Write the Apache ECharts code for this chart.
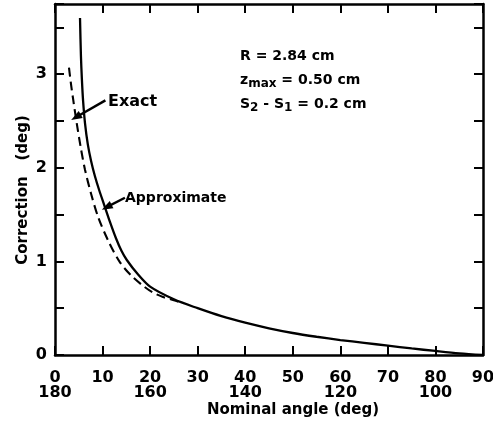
<!DOCTYPE html>
<html>
<head>
<meta charset="utf-8">
<script src="https://cdn.jsdelivr.net/npm/echarts@6/dist/echarts.min.js"></script>
<style>
  html, body { margin: 0; padding: 0; background: #fff; }
  #chart { width: 493px; height: 421px; }
</style>
</head>
<body>
<div id="chart"></div>
<script>
// Exact correction curve (nominal angle in deg, correction in deg)
const exactAngle = [5.26, 5.45, 5.65, 5.9, 6.3, 6.9, 7.6, 8.4, 9.3, 10.3, 11.5, 12.8, 14.0, 15.1, 17.3, 20, 25, 30, 35, 40, 45, 50, 55, 60, 65, 70, 75, 80, 85, 90];
const exactCorr  = [3.6, 3.2, 2.95, 2.72, 2.48, 2.25, 2.07, 1.91, 1.76, 1.61, 1.43, 1.25, 1.11, 1.015, 0.87, 0.73, 0.595, 0.5, 0.415, 0.345, 0.285, 0.235, 0.195, 0.16, 0.13, 0.1, 0.07, 0.043, 0.018, 0];

// Approximate correction curve
const approxAngle = [2.94, 3.4, 3.85, 4.56, 5.4, 6.31, 7.6, 9.1, 11.2, 13.67, 16, 18.5, 20.5, 22.7, 25, 27];
const approxCorr  = [3.07, 2.88, 2.72, 2.48, 2.22, 1.98, 1.72, 1.47, 1.22, 0.99, 0.85, 0.74, 0.67, 0.62, 0.585, 0.55];

// Bottom axis: nominal angle ticks and their supplementary angles
const angleTicks = [0, 10, 20, 30, 40, 50, 60, 70, 80, 90];
const supplementLabels = ['180', '', '160', '', '140', '', '120', '', '100', ''];

// Annotation arrows: [tail, tip] in data units
const exactArrow  = [[10.6, 2.72], [4.4, 2.54]];
const approxArrow = [[14.7, 1.68], [10.87, 1.58]];

const FONT = 'DejaVu Sans';
const zip = (a, b) => a.map((v, i) => [v, b[i]]);

const chart = echarts.init(document.getElementById('chart'), null, { renderer: 'canvas' });

const axisCommon = {
  axisLine: { show: true, onZero: false, lineStyle: { color: '#000', width: 2.5 } },
  axisTick: { show: true, inside: true, length: 9, lineStyle: { color: '#000', width: 2 } },
  splitLine: { show: false }
};

function arrowLine(pts) {
  return [
    { coord: pts[0], symbol: 'none' },
    { coord: pts[1], symbol: 'triangle' }
  ];
}

chart.setOption({
  animation: false,
  backgroundColor: '#fff',
  grid: { left: 55, right: 10, top: 4, bottom: 66, containLabel: false, outerBoundsMode: 'none' },
  xAxis: [
    Object.assign({
      type: 'value', min: 0, max: 90, interval: 10, position: 'bottom',
      axisLabel: {
        margin: 15, color: '#000', fontFamily: FONT, fontWeight: 'bold', fontSize: 16, lineHeight: 15,
        formatter: v => {
          const i = angleTicks.indexOf(v);
          return i >= 0 && supplementLabels[i] ? v + '\n' + supplementLabels[i] : String(v);
        }
      }
    }, axisCommon),
    Object.assign({
      type: 'value', min: 0, max: 90, interval: 10, position: 'top',
      axisLabel: { show: false }
    }, axisCommon)
  ],
  yAxis: [
    Object.assign({
      type: 'value', min: 0, max: 3.75, interval: 0.5, position: 'left',
      axisLabel: {
        margin: 8, color: '#000', fontFamily: FONT, fontWeight: 'bold', fontSize: 16,
        formatter: v => (Math.abs(v - Math.round(v)) < 1e-9 ? String(v) : '')
      }
    }, axisCommon),
    Object.assign({
      type: 'value', min: 0, max: 3.75, interval: 0.5, position: 'right',
      axisLabel: { show: false }
    }, axisCommon)
  ],
  series: [
    {
      name: 'Exact', type: 'line', data: zip(exactAngle, exactCorr),
      showSymbol: false, smooth: 0.3,
      lineStyle: { color: '#000', width: 2.3 },
      markLine: {
        silent: true, symbolSize: [8, 11],
        lineStyle: { color: '#000', width: 2.4, type: 'solid' },
        label: { show: false },
        data: [arrowLine(exactArrow), arrowLine(approxArrow)]
      }
    },
    {
      name: 'Approximate', type: 'line', data: zip(approxAngle, approxCorr),
      showSymbol: false, smooth: 0.3,
      lineStyle: { color: '#000', width: 2.1, type: [9, 5] }
    }
  ],
  graphic: [
    { type: 'text', left: 108, top: 94, style: { text: 'Exact', font: 'bold 16px "DejaVu Sans"', fill: '#000' } },
    { type: 'text', left: 125, top: 191, style: { text: 'Approximate', font: 'bold 14px "DejaVu Sans"', fill: '#000' } },
    {
      type: 'text', left: 240, top: 44,
      style: {
        text: 'R = 2.84 cm\n{z|z}{sub|max}{z| = 0.50 cm}\n{z|S}{sub|2}{z| - S}{sub|1}{z| = 0.2 cm}',
        font: 'bold 14px "DejaVu Sans"', fill: '#000', lineHeight: 24,
        rich: {
          z: { font: 'bold 14px "DejaVu Sans"', fill: '#000' },
          sub: { font: 'bold 12px "DejaVu Sans"', fill: '#000', padding: [8, 0, 0, 0] }
        }
      }
    },
    {
      type: 'text', x: 293, y: 410,
      style: { text: 'Nominal angle (deg)', font: 'bold 15px "DejaVu Sans"', fill: '#000', align: 'center', verticalAlign: 'middle' }
    },
    {
      type: 'text', x: 23, y: 190, rotation: Math.PI / 2,
      style: { text: 'Correction   (deg)', font: 'bold 15px "DejaVu Sans"', fill: '#000', align: 'center', verticalAlign: 'middle' }
    }
  ]
});
</script>
</body>
</html>
